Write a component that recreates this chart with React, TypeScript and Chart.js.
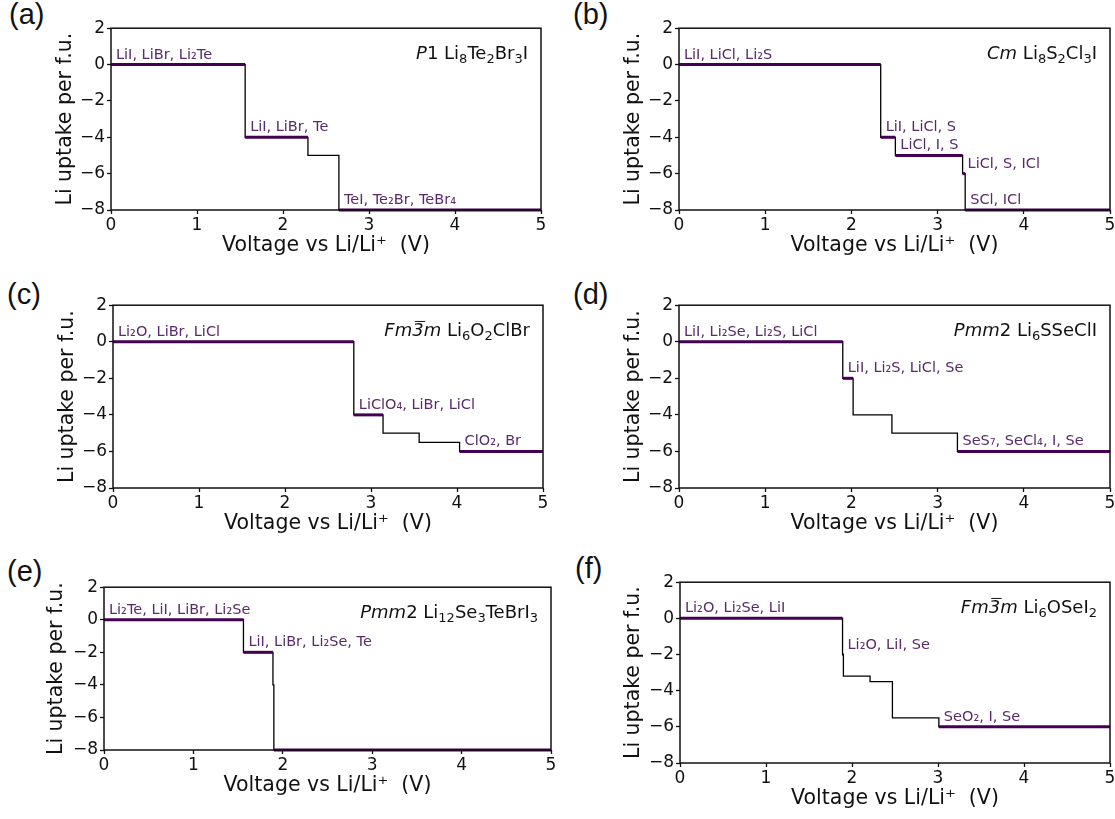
import React, { useEffect, useRef } from 'react';
import { Chart, registerables } from 'chart.js';

Chart.register(...registerables);

// ---- tick labels ----
const voltageTicks = [0, 1, 2, 3, 4, 5];
const uptakeTicks = [-8, -6, -4, -2, 0, 2];

// ---- (a) P1 Li8Te2Br3I ----
const voltageA = [0, 1.56, 2.29, 2.65, 5];
const uptakeA = [0, -4, -5, -8, -8];
const phasesA = ['LiI, LiBr, Li₂Te', 'LiI, LiBr, Te', null, 'TeI, Te₂Br, TeBr₄'];
const formulaA = [['P', 'i'], ['1 Li₈Te₂Br₃I', 'n']];

// ---- (b) Cm Li8S2Cl3I ----
const voltageB = [0, 2.34, 2.51, 3.29, 3.32, 5];
const uptakeB = [0, -4, -5, -6, -8, -8];
const phasesB = ['LiI, LiCl, Li₂S', 'LiI, LiCl, S', 'LiCl, I, S', 'LiCl, S, ICl', 'SCl, ICl'];
const formulaB = [['Cm', 'i'], [' Li₈S₂Cl₃I', 'n']];

// ---- (c) Fm-3m Li6O2ClBr ----
const voltageC = [0, 2.8, 3.14, 3.56, 4.03, 5];
const uptakeC = [0, -4, -5, -5.5, -6, -6];
const phasesC = ['Li₂O, LiBr, LiCl', 'LiClO₄, LiBr, LiCl', null, null, 'ClO₂, Br'];
const formulaC = [['Fm', 'i'], ['3', 'ib'], ['m', 'i'], [' Li₆O₂ClBr', 'n']];

// ---- (d) Pmm2 Li6SSeClI ----
const voltageD = [0, 1.9, 2.02, 2.47, 3.23, 5];
const uptakeD = [0, -2, -4, -5, -6, -6];
const phasesD = ['LiI, Li₂Se, Li₂S, LiCl', 'LiI, Li₂S, LiCl, Se', null, null, 'SeS₇, SeCl₄, I, Se'];
const formulaD = [['Pmm', 'i'], ['2 Li₆SSeClI', 'n']];

// ---- (e) Pmm2 Li12Se3TeBrI3 ----
const voltageE = [0, 1.56, 1.89, 1.9, 5];
const uptakeE = [0, -2, -4, -8, -8];
const phasesE = ['Li₂Te, LiI, LiBr, Li₂Se', 'LiI, LiBr, Li₂Se, Te', null, ''];
const formulaE = [['Pmm', 'i'], ['2 Li₁₂Se₃TeBrI₃', 'n']];

// ---- (f) Fm-3m Li6OSeI2 ----
const voltageF = [0, 1.89, 1.9, 2.21, 2.47, 3.01, 5];
const uptakeF = [0, -2, -3.2, -3.5, -5.5, -6, -6];
const phasesF = ['Li₂O, Li₂Se, LiI', 'Li₂O, LiI, Se', null, null, null, 'SeO₂, I, Se'];
const formulaF = [['Fm', 'i'], ['3', 'ib'], ['m', 'i'], [' Li₆OSeI₂', 'n']];

const X_TITLE = 'Voltage vs Li/Li⁺  (V)';
const Y_TITLE = 'Li uptake per f.u.';

const FONT = '"DejaVu Sans", "Noto Sans", sans-serif';
const PURPLE_LINE = '#440154';
const PURPLE_TEXT = '#5a2a6a';

const Y_AXIS_W = 75;
const X_AXIS_H = 50;
const PAD_TOP = 12;
const PAD_RIGHT = 10;
const TITLE_SIZE = 20.5;
const FORMULA_SIZE = 18;
const LABEL_SIZE = 14.5;

const panels = [
  { letter: '(a)', letterPos: [9, 0], plot: [111, 28, 541, 210], yTitleX: 66, voltage: voltageA, uptake: uptakeA, phases: phasesA, formula: formulaA },
  { letter: '(b)', letterPos: [573, 0], plot: [679, 28, 1110, 210], yTitleX: 634, voltage: voltageB, uptake: uptakeB, phases: phasesB, formula: formulaB },
  { letter: '(c)', letterPos: [7, 280], plot: [113, 305, 543, 488], yTitleX: 68, voltage: voltageC, uptake: uptakeC, phases: phasesC, formula: formulaC },
  { letter: '(d)', letterPos: [573, 280], plot: [679, 305, 1110, 488], yTitleX: 634, voltage: voltageD, uptake: uptakeD, phases: phasesD, formula: formulaD },
  { letter: '(e)', letterPos: [7, 557], plot: [104, 587, 551, 750], yTitleX: 57, voltage: voltageE, uptake: uptakeE, phases: phasesE, formula: formulaE },
  { letter: '(f)', letterPos: [575, 554], plot: [680, 582, 1110, 763], yTitleX: 634, voltage: voltageF, uptake: uptakeF, phases: phasesF, formula: formulaF },
];

const fmtTick = (v: number) => (v < 0 ? '\u2212' + Math.abs(v) : String(v));

const SUBS = '₀₁₂₃₄₅₆₇₈₉';

// split a string into [text, isSubscript] pieces
function splitSubs(t: string): [string, boolean][] {
  const out: [string, boolean][] = [];
  for (const ch of t) {
    const k = SUBS.indexOf(ch);
    const isSub = k >= 0;
    const c = isSub ? String(k) : ch;
    if (out.length && out[out.length - 1][1] === isSub) out[out.length - 1][0] += c;
    else out.push([c, isSub]);
  }
  return out;
}

function canvasBox(p: any) {
  const [l, t, r, b] = p.plot;
  return {
    left: l - Y_AXIS_W,
    top: t - PAD_TOP,
    width: r - l + Y_AXIS_W + PAD_RIGHT,
    height: b - t + PAD_TOP + X_AXIS_H,
  };
}

function Panel({ p }: { p: any }) {
  const ref = useRef<HTMLCanvasElement | null>(null);
  const box = canvasBox(p);

  useEffect(() => {
    const canvas = ref.current;
    if (!canvas) return;
    const { voltage, uptake, phases, formula } = p;
    const datasets: any[] = [];
    phases.forEach((ph: string | null, i: number) => {
      if (ph === null) return;
      datasets.push({
        data: [
          { x: voltage[i], y: uptake[i] },
          { x: voltage[i + 1], y: uptake[i] },
        ],
        borderColor: PURPLE_LINE,
        borderWidth: 3,
        pointRadius: 0,
        clip: false,
        borderCapStyle: 'butt',
      });
    });
    datasets.push({
      data: voltage.map((v: number, i: number) => ({ x: v, y: uptake[i] })),
      stepped: 'before',
      borderColor: '#000',
      borderWidth: 1.3,
      pointRadius: 0,
      clip: false,
    });

    const lh = TITLE_SIZE * 1.2;
    const yTitlePad = p.yTitleX - box.left - lh / 2;

    const annot = {
      id: 'annot' + p.letter,
      afterDatasetsDraw(chart: any) {
        const ctx = chart.ctx;
        const xs = chart.scales.x;
        const ys = chart.scales.y;
        const ca = chart.chartArea;
        ctx.save();
        // phase labels
        ctx.font = `${LABEL_SIZE}px ${FONT}`;
        ctx.fillStyle = PURPLE_TEXT;
        ctx.textAlign = 'left';
        ctx.textBaseline = 'alphabetic';
        phases.forEach((ph: string | null, i: number) => {
          if (!ph) return;
          const x = xs.getPixelForValue(voltage[i]) + 5;
          const y = ys.getPixelForValue(uptake[i]) - 6;
          ctx.fillText(ph, x, y);
        });
        // formula (right aligned, with lowered subscripts)
        const size = FORMULA_SIZE;
        const subSize = Math.round(size * 0.7);
        const fontFor = (s: string, sub: boolean) =>
          `${s.includes('i') ? 'italic ' : ''}${sub ? subSize : size}px ${FONT}`;
        const pieces: { t: string; s: string; sub: boolean; w: number }[] = [];
        let total = 0;
        formula.forEach(([t, s]: [string, string]) => {
          splitSubs(t).forEach(([txt, sub]) => {
            ctx.font = fontFor(s, sub);
            const w = ctx.measureText(txt).width;
            pieces.push({ t: txt, s, sub, w });
            total += w;
          });
        });
        let x = ca.right - 13 - total;
        const base = ca.top + 31;
        ctx.fillStyle = '#111';
        pieces.forEach((pc) => {
          ctx.font = fontFor(pc.s, pc.sub);
          ctx.fillText(pc.t, x, base + (pc.sub ? size * 0.2 : 0));
          if (pc.s.includes('b')) {
            ctx.strokeStyle = '#111';
            ctx.lineWidth = 1;
            ctx.beginPath();
            ctx.moveTo(x + 2.5, base - size * 0.82);
            ctx.lineTo(x + pc.w + 1.5, base - size * 0.82);
            ctx.stroke();
          }
          x += pc.w;
        });
        // frame
        ctx.strokeStyle = '#111';
        ctx.lineWidth = 1.5;
        ctx.strokeRect(ca.left, ca.top, ca.right - ca.left, ca.bottom - ca.top);
        ctx.restore();
      },
    };

    const chart = new Chart(canvas, {
      type: 'line',
      data: { datasets },
      options: {
        animation: false,
        responsive: false,
        devicePixelRatio: 1,
        events: [],
        layout: { padding: { top: PAD_TOP, right: PAD_RIGHT, bottom: 0, left: 0 } },
        plugins: { legend: { display: false }, tooltip: { enabled: false } },
        scales: {
          x: {
            type: 'linear',
            min: 0,
            max: 5,
            afterBuildTicks: (s: any) => {
              s.ticks = voltageTicks.map((v) => ({ value: v }));
            },
            afterFit: (s: any) => {
              s.height = X_AXIS_H;
            },
            grid: { drawOnChartArea: false, drawTicks: true, tickLength: 4, tickWidth: 1.3, tickColor: '#111' },
            border: { display: false },
            ticks: { color: '#111', font: { family: FONT, size: 17 }, padding: 1, maxRotation: 0, autoSkip: false, callback: (v: any) => fmtTick(Number(v)) },
            title: { display: true, text: X_TITLE, color: '#111', font: { family: FONT, size: TITLE_SIZE }, padding: { top: 0, bottom: 2 } },
          },
          y: {
            type: 'linear',
            min: -8,
            max: 2,
            afterBuildTicks: (s: any) => {
              s.ticks = uptakeTicks.map((v) => ({ value: v }));
            },
            afterFit: (s: any) => {
              s.width = Y_AXIS_W;
            },
            grid: { drawOnChartArea: false, drawTicks: true, tickLength: 4, tickWidth: 1.3, tickColor: '#111' },
            border: { display: false },
            ticks: { color: '#111', font: { family: FONT, size: 17 }, padding: 2, autoSkip: false, callback: (v: any) => fmtTick(Number(v)) },
            title: { display: true, text: Y_TITLE, color: '#111', font: { family: FONT, size: TITLE_SIZE }, padding: { top: yTitlePad, bottom: 0 } },
          },
        },
      } as any,
      plugins: [annot],
    });
    return () => chart.destroy();
  }, []);

  return (
    <>
      <div
        style={{
          position: 'absolute',
          left: p.letterPos[0],
          top: p.letterPos[1],
          font: `29px "Liberation Sans", Arial, sans-serif`,
          lineHeight: 1,
          color: '#111',
        }}
      >
        {p.letter}
      </div>
      <canvas
        ref={ref}
        width={box.width}
        height={box.height}
        style={{ position: 'absolute', left: box.left, top: box.top, width: box.width, height: box.height }}
      />
    </>
  );
}

export default function App() {
  return (
    <div style={{ position: 'fixed', left: 0, top: 0, width: 1115, height: 819, overflow: 'hidden', background: '#fff' }}>
      {panels.map((p) => (
        <Panel key={p.letter} p={p} />
      ))}
    </div>
  );
}
